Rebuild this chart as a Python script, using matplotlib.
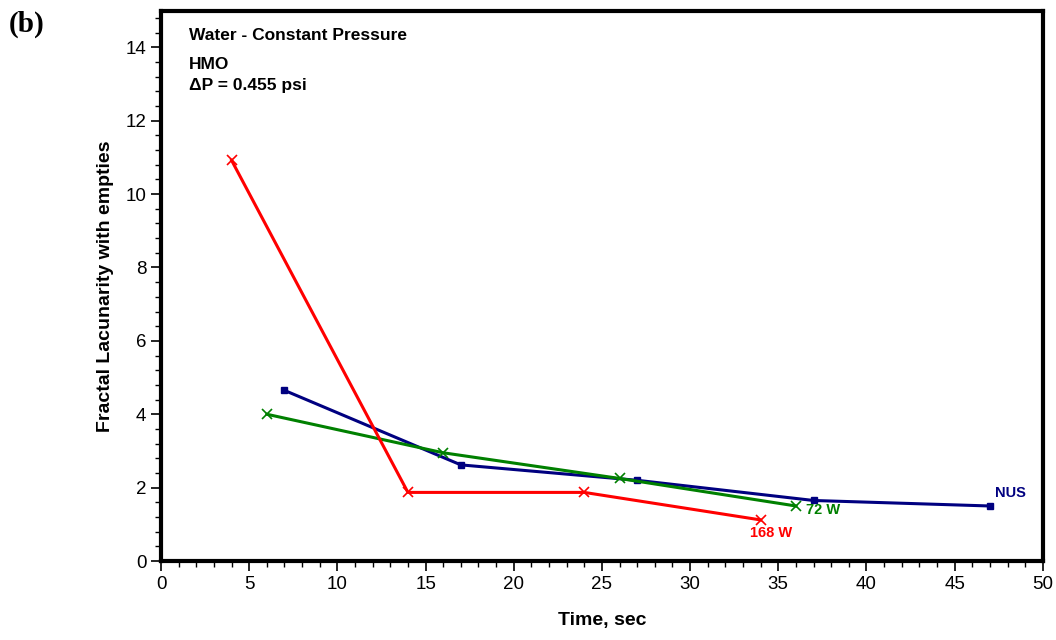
import matplotlib.pyplot as plt
from matplotlib.ticker import MultipleLocator

plt.rcParams['font.family'] = ['Liberation Sans', 'DejaVu Sans']

# NUS
nus_t = [7, 17, 27, 37, 47]
nus_lac = [4.65, 2.62, 2.2, 1.65, 1.5]
# 72 W
w72_t = [6, 16, 26, 36]
w72_lac = [4.0, 2.95, 2.25, 1.5]
# 168 W
w168_t = [4, 14, 24, 34]
w168_lac = [10.92, 1.87, 1.87, 1.12]

fig = plt.figure(figsize=(10.56, 6.4), dpi=100)
ax = fig.add_axes([0.1525, 0.1234, 0.835, 0.86])

ax.plot(nus_t, nus_lac, color='#000080', lw=2.2, marker='s', ms=4.5)
ax.plot(w72_t, w72_lac, color='#008000', lw=2.2, marker='x', ms=7, mew=1.2)
ax.plot(w168_t, w168_lac, color='#ff0000', lw=2.2, marker='x', ms=7, mew=1.2)

ax.text(47.3, 1.75, 'NUS', color='#000080', fontsize=10.5, fontweight='bold')
ax.text(36.6, 1.28, '72 W', color='#008000', fontsize=10.5, fontweight='bold')
ax.text(33.4, 0.65, '168 W', color='#ff0000', fontsize=10.5, fontweight='bold')

ax.text(1.6, 14.2, 'Water - Constant Pressure', fontsize=12.5, fontweight='bold')
ax.text(1.6, 13.4, 'HMO', fontsize=12.5, fontweight='bold')
ax.text(1.6, 12.85, '\u0394P = 0.455 psi', fontsize=12.5, fontweight='bold')

ax.set_xlim(0, 50)
ax.set_ylim(0, 15)
ax.set_yticks(range(0, 15, 2))
ax.xaxis.set_major_locator(MultipleLocator(5))
ax.xaxis.set_minor_locator(MultipleLocator(1))
ax.yaxis.set_minor_locator(MultipleLocator(0.4))
ax.tick_params(which='major', length=7, width=1.2, labelsize=13.5, direction='out')
ax.tick_params(which='minor', length=4, width=1)
for s in ax.spines.values():
    s.set_linewidth(3)

ax.set_xlabel('Time, sec', fontsize=14, fontweight='bold', labelpad=14)
ax.set_ylabel('Fractal Lacunarity with empties', fontsize=14, fontweight='bold', labelpad=8)

fig.text(0.008, 0.95, '(b)', fontsize=21, fontweight='bold', family='Liberation Serif')

fig.savefig('out.png', dpi=100)
